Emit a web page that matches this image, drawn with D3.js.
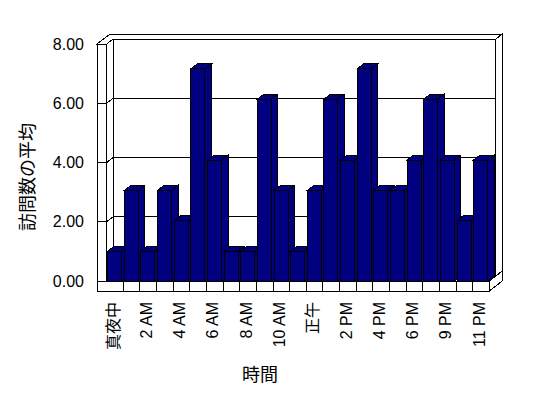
<!DOCTYPE html>
<html>
<head>
<meta charset="utf-8">
<script src="https://cdn.jsdelivr.net/npm/d3@7"></script>
<style>
body { margin: 0; background: #fff; }
text { font-family: "Liberation Sans", "Noto Sans CJK JP", sans-serif; fill: #000; }
</style>
</head>
<body>
<svg id="chart" width="548" height="398"></svg>
<script>
var hours = ["真夜中", "1 AM", "2 AM", "3 AM", "4 AM", "5 AM", "6 AM", "7 AM", "8 AM", "9 AM", "10 AM", "11 AM",
             "正午", "1 PM", "2 PM", "3 PM", "4 PM", "5 PM", "6 PM", "7 PM", "9 PM", "10 PM", "11 PM"];
var visits = [1, 3, 1, 3, 2, 7, 4, 1, 1, 6, 3, 1, 3, 6, 4, 7, 3, 3, 4, 6, 4, 2, 4];
var yTicks = [0, 2, 4, 6, 8];

var svg = d3.select('#chart').attr("shape-rendering", "crispEdges");

// one step of depth in the fake 3d view
var dx = 6.5, dy = -5;
var left = 106.7, right = 489.3;
var floorTop = 281, floorBottom = 291, wallOuter = 97;

var x = d3.scaleBand().domain(hours).range([left, right]);
var y = d3.scaleLinear().domain([0, 8]).range([floorTop, 44]);
var yBar = d3.scaleLinear().domain([0, 8]).range([281.5, 38.5]);
var wallTop = y(8);

function pts(a) {
    return a.map(function(p) { return p.join(","); }).join(" ");
}
function poly(a, fill) {
    return svg.append("polygon")
        .attr("points", pts(a))
        .attr("fill", fill || "#fff")
        .attr("stroke", "#000")
        .attr("stroke-width", 1);
}
function line(x1, y1, x2, y2) {
    svg.append("line")
        .attr("x1", x1).attr("y1", y1).attr("x2", x2).attr("y2", y2)
        .attr("stroke", "#000").attr("stroke-width", 1);
}

// back wall
poly([[left + dx, wallTop + dy], [right + dx, wallTop + dy], [right + dx, floorTop + dy], [left + dx, floorTop + dy]]);
yTicks.forEach(function(t) {
    line(left + dx, y(t) + dy, right + dx, y(t) + dy);
});

// left wall, inner side
poly([[left, wallTop], [left + dx, wallTop + dy], [left + dx, floorTop + dy], [left, floorTop]]);
yTicks.forEach(function(t) {
    line(left, y(t), left + dx, y(t) + dy);
});

// wall tops and right end of back wall
poly([[wallOuter, wallTop], [wallOuter + 2 * dx, wallTop + 2 * dy], [right + 2 * dx, wallTop + 2 * dy],
      [right + dx, wallTop + dy], [left + dx, wallTop + dy], [left, wallTop]]);
poly([[right + dx, wallTop + dy], [right + 2 * dx, wallTop + 2 * dy], [right + 2 * dx, floorTop + 2 * dy], [right + dx, floorTop + dy]]);

// floor top
poly([[left, floorTop], [left + dx, floorTop + dy], [right + dx, floorTop + dy], [right, floorTop]]);

// bars
var bw = 14;
svg.selectAll("g.bar")
    .data(visits)
    .enter()
    .append("g")
    .attr("class", "bar")
    .each(function(v, i) {
        var g = d3.select(this);
        var x0 = x(hours[i]) + 1;
        var yt = yBar(v), yb = yBar(0);
        g.append("polygon")
            .attr("points", pts([[x0 + bw, yt], [x0 + bw + dx, yt + dy], [x0 + bw + dx, yb + dy], [x0 + bw, yb]]))
            .attr("fill", "#000080").attr("stroke", "#000");
        g.append("polygon")
            .attr("points", pts([[x0, yt], [x0 + dx, yt + dy], [x0 + bw + dx, yt + dy], [x0 + bw, yt]]))
            .attr("fill", "#000080").attr("stroke", "#000");
        g.append("rect")
            .attr("x", x0).attr("y", yt)
            .attr("width", bw).attr("height", yb - yt)
            .attr("fill", "#000080").attr("stroke", "#000");
    });

// floor front and right side
poly([[wallOuter, floorTop], [right, floorTop], [right, floorBottom], [wallOuter, floorBottom]]);
hours.slice(1).forEach(function(h) {
    line(x(h), floorTop, x(h), floorBottom);
});
poly([[right, floorTop], [right + 2 * dx, floorTop + 2 * dy], [right + 2 * dx, floorBottom + 2 * dy], [right, floorBottom]]);

// left wall front face
poly([[wallOuter, wallTop], [left, wallTop], [left, floorTop], [wallOuter, floorTop]]);
yTicks.forEach(function(t) {
    line(wallOuter, y(t), left, y(t));
});

// y tick labels
svg.selectAll("text.ytick")
    .data(yTicks)
    .enter()
    .append("text")
    .attr("class", "ytick")
    .attr("x", 84)
    .attr("y", function(d) { return y(d); })
    .attr("dy", "0.35em")
    .attr("text-anchor", "end")
    .attr("font-size", "16px")
    .text(function(d) { return d3.format(".2f")(d); });

// x tick labels, every other hour
svg.selectAll("text.xtick")
    .data(hours.filter(function(d, i) { return i % 2 === 0; }))
    .enter()
    .append("text")
    .attr("class", "xtick")
    .attr("transform", function(d) {
        return "translate(" + (x(d) + x.bandwidth() / 2 - 2) + ",302) rotate(-90)";
    })
    .attr("dy", "0.35em")
    .attr("text-anchor", "end")
    .attr("font-size", "16px")
    .text(function(d) { return d; });

// axis titles
svg.append("text")
    .attr("transform", "translate(28,177) rotate(-90)")
    .attr("dy", "0.35em")
    .attr("text-anchor", "middle")
    .attr("font-size", "18px")
    .text("訪問数の平均");

svg.append("text")
    .attr("x", 260)
    .attr("y", 375)
    .attr("dy", "0.35em")
    .attr("text-anchor", "middle")
    .attr("font-size", "18px")
    .text("時間");
</script>
</body>
</html>
